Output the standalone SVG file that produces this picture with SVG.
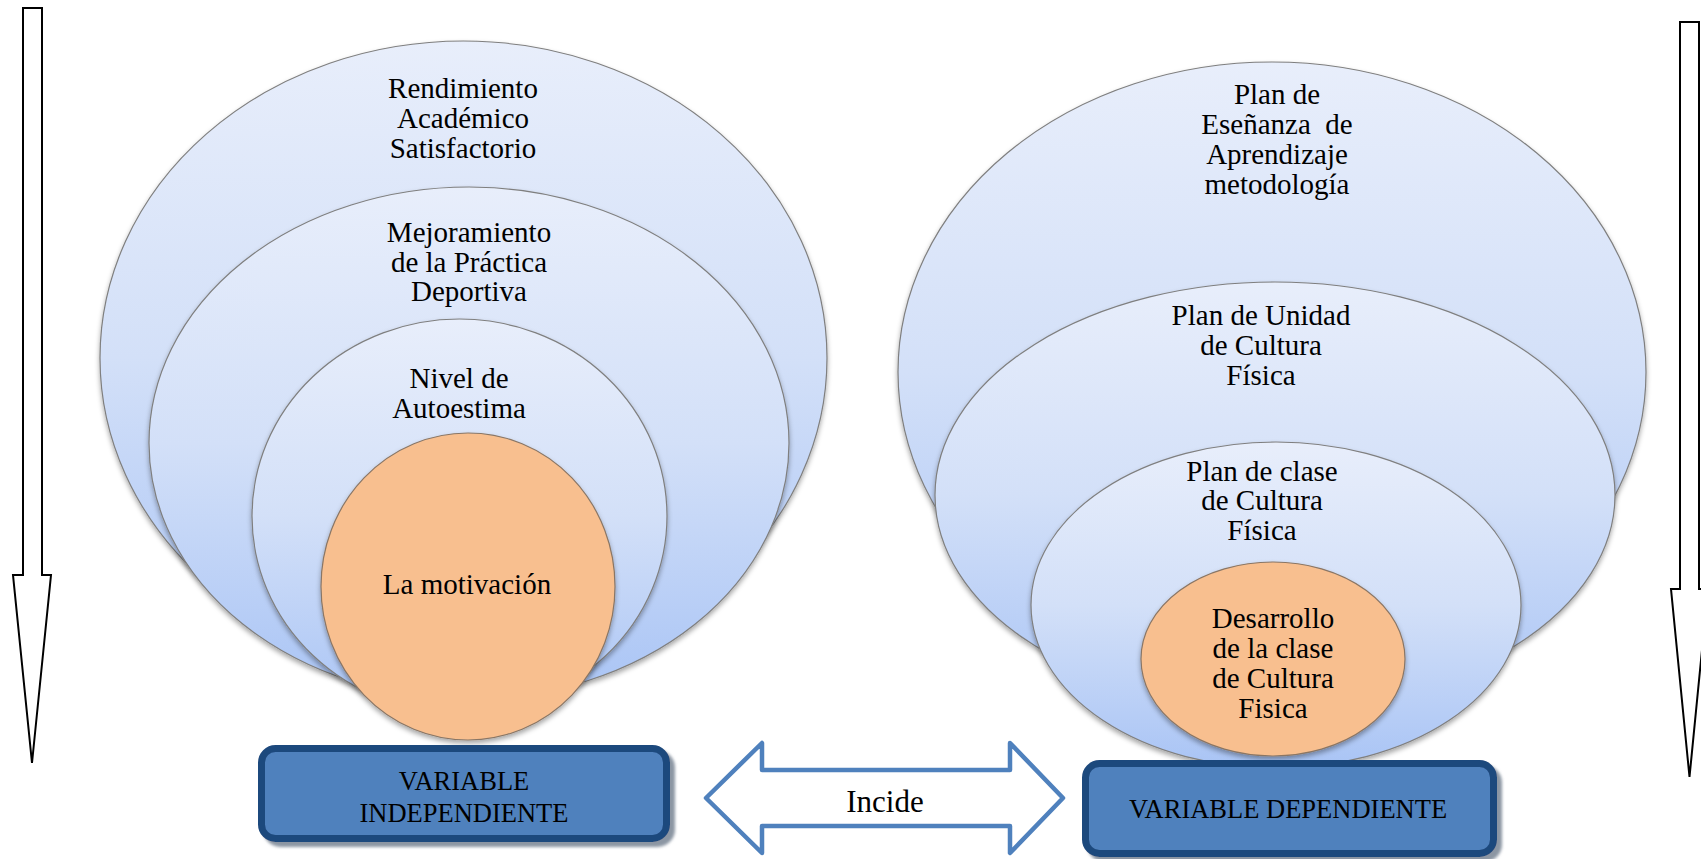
<svg xmlns="http://www.w3.org/2000/svg" width="1701" height="859" viewBox="0 0 1701 859">
<defs>
<linearGradient id="blueG" x1="0" y1="0" x2="0" y2="1">
<stop offset="0" stop-color="#e8eefb"/>
<stop offset="0.5" stop-color="#d3e0f8"/>
<stop offset="1" stop-color="#a9c4f5"/>
</linearGradient>
<filter id="sh" x="-10%" y="-10%" width="120%" height="125%">
<feDropShadow dx="0" dy="3" stdDeviation="2.5" flood-color="#000" flood-opacity="0.35"/>
</filter>
<filter id="bsh" x="-10%" y="-10%" width="120%" height="130%">
<feDropShadow dx="5" dy="5" stdDeviation="1.5" flood-color="#7f8a99" flood-opacity="0.9"/>
</filter>
</defs>
<style>
.ell{fill:url(#blueG);stroke:#7f7f7f;stroke-width:1.2;filter:url(#sh)}
.org{fill:#f8bf8f;stroke:#8a7665;stroke-width:1.2;filter:url(#sh)}
.t{font-family:"Liberation Serif","Times New Roman",serif;font-size:29px;fill:#000;text-anchor:middle}
.bt{font-family:"Liberation Serif","Times New Roman",serif;font-size:26.5px;fill:#000;text-anchor:middle}
.box{fill:#4f81bd;stroke:#1f497d;stroke-width:7;filter:url(#bsh)}
.darr{fill:#fff;stroke:#000;stroke-width:2}
</style>

<g id="arrow-left">
<path class="darr" d="M23,8 H42 V575 H51 L32,763 L13,575 H23 Z"/>
</g>
<g id="arrow-right">
<path class="darr" d="M1680,22 H1699 V589 H1708 L1689.5,777 L1671,589 H1680 Z"/>
</g>

<g id="left-outer">
<ellipse class="ell" cx="463.5" cy="358" rx="363.5" ry="317"/>
<text class="t" x="463" y="98">Rendimiento</text>
<text class="t" x="463" y="128">Académico</text>
<text class="t" x="463" y="158">Satisfactorio</text>
</g>
<g id="left-second">
<ellipse class="ell" cx="469" cy="443" rx="320" ry="256"/>
<text class="t" x="469" y="242">Mejoramiento</text>
<text class="t" x="469" y="271.5">de la Práctica</text>
<text class="t" x="469" y="301">Deportiva</text>
</g>
<g id="left-third">
<ellipse class="ell" cx="459.5" cy="516" rx="207.5" ry="197"/>
<text class="t" x="459" y="388">Nivel de</text>
<text class="t" x="459" y="418">Autoestima</text>
</g>
<g id="left-core">
<ellipse class="org" cx="468" cy="586.5" rx="147" ry="153.5"/>
<text class="t" x="467" y="594">La motivación</text>
</g>

<g id="right-outer">
<ellipse class="ell" cx="1272" cy="372" rx="374" ry="310"/>
<text class="t" x="1277" y="104">Plan de</text>
<text class="t" x="1277" y="134" xml:space="preserve">Eseñanza  de</text>
<text class="t" x="1277" y="164">Aprendizaje</text>
<text class="t" x="1277" y="194">metodología</text>
</g>
<g id="right-second">
<ellipse class="ell" cx="1275" cy="495" rx="340" ry="213"/>
<text class="t" x="1261" y="325">Plan de Unidad</text>
<text class="t" x="1261" y="355">de Cultura</text>
<text class="t" x="1261" y="385">Física</text>
</g>
<g id="right-third">
<ellipse class="ell" cx="1276" cy="605" rx="245" ry="163"/>
<text class="t" x="1262" y="481">Plan de clase</text>
<text class="t" x="1262" y="510">de Cultura</text>
<text class="t" x="1262" y="540">Física</text>
</g>
<g id="right-core">
<ellipse class="org" cx="1273" cy="659" rx="132" ry="97"/>
<text class="t" x="1273" y="628">Desarrollo</text>
<text class="t" x="1273" y="658">de la clase</text>
<text class="t" x="1273" y="688">de Cultura</text>
<text class="t" x="1273" y="718">Fisica</text>
</g>

<g id="box-independiente">
<rect class="box" x="261.5" y="748.5" width="405" height="90" rx="14"/>
<text class="bt" x="464" y="790">VARIABLE</text>
<text class="bt" x="464" y="822">INDEPENDIENTE</text>
</g>
<g id="box-dependiente">
<rect class="box" x="1085.5" y="763.5" width="408" height="90" rx="14"/>
<text class="bt" x="1288" y="818">VARIABLE DEPENDIENTE</text>
</g>

<g id="connectors">
<path d="M706,798 L762,743 V770 H1010 V743 L1063,798 L1010,853 V826 H762 V853 Z" fill="#fff" stroke="#4f81bd" stroke-width="4.5" stroke-linejoin="round"/>
<text x="885" y="812" font-family="Liberation Serif, Times New Roman, serif" font-size="31" text-anchor="middle">Incide</text>
</g>
</svg>
